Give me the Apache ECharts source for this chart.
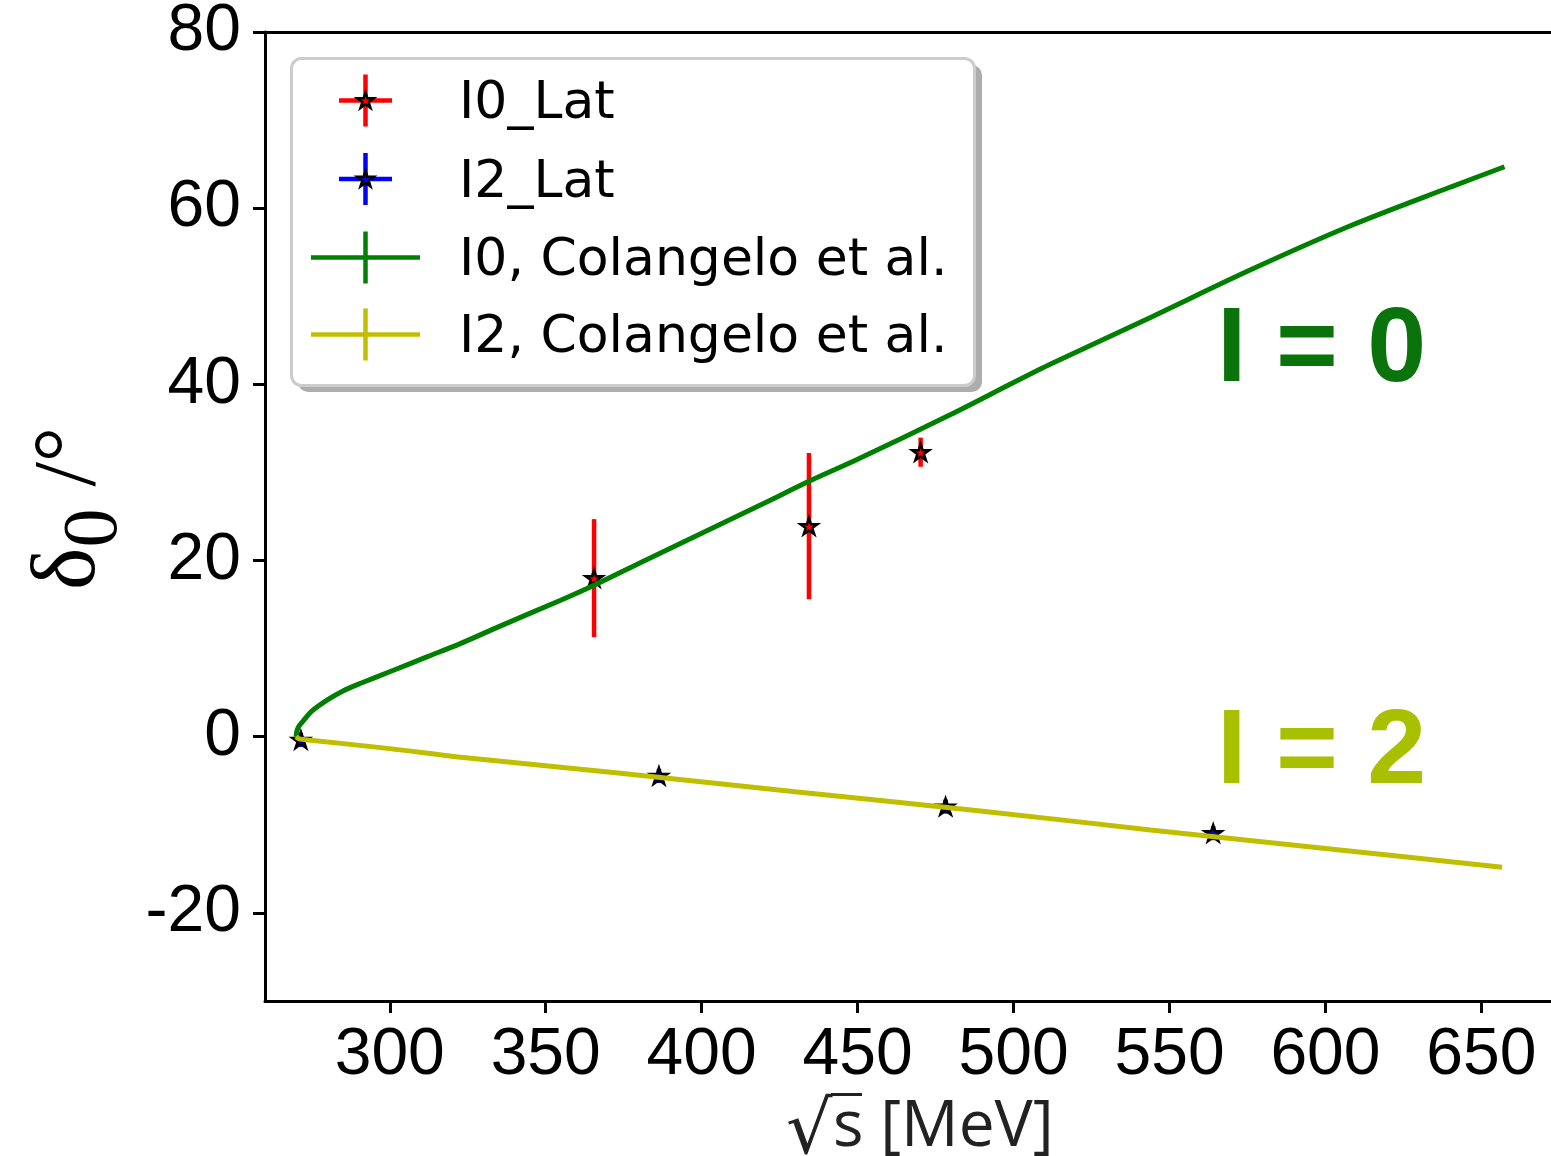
<!DOCTYPE html>
<html>
<head>
<meta charset="utf-8">
<script src="https://cdn.jsdelivr.net/npm/echarts@6/dist/echarts.min.js"></script>
<style>
  html, body { margin: 0; padding: 0; background: #fff; }
  #chart { width: 1551px; height: 1156px; }
</style>
</head>
<body>
<div id="chart"></div>
<script>
// Lattice points, I = 0 (sqrt(s) in MeV, phase shift in degrees, symmetric error)
const latI0X = [365.5, 434.4, 470.2];
const latI0Y = [18.0, 23.9, 32.3];
const latI0Err = [6.7, 8.3, 1.65];

// Lattice points, I = 2
const latI2X = [271.5, 386.3, 478.2, 564.0];
const latI2Y = [-0.36, -4.45, -7.93, -10.95];
const latI2Err = [0.8, 0.8, 0.8, 0.8];

// Colangelo et al. phase shift, I = 0
const colI0X = [269.95, 270.2, 270.6, 271.2, 272.5, 275, 280, 285, 290.7, 301.4, 312.1, 322.8, 335, 354.8, 365.5, 380, 400, 420, 434.4, 450, 480, 500, 511.9, 543.9, 576, 608, 640.1, 657.4];
const colI0Y = [0, 0.6, 1.0, 1.35, 1.9, 2.9, 4.18, 5.2, 6.07, 7.58, 9.09, 10.6, 12.5, 15.5, 17.2, 19.7, 23.1, 26.5, 29.0, 31.5, 36.6, 40.2, 42.3, 47.6, 53.0, 58.0, 62.4, 64.7];

// Colangelo et al. phase shift, I = 2
const colI2X = [269.95, 271, 274.7, 300, 322.8, 374, 430, 489.4, 543.9, 600, 656.6];
const colI2Y = [0, -0.25, -0.4, -1.35, -2.33, -4.14, -6.25, -8.42, -10.58, -12.68, -14.81];

// Axis ticks
const xTicks = [300, 350, 400, 450, 500, 550, 600, 650];
const yTicks = [-20, 0, 20, 40, 60, 80];

const RED = '#ff0000', BLUE = '#0000ff', GREEN = '#008000', YELLOW = '#bfbf00';
const STAR = 'M50 0 L61.23 34.55 L97.55 34.55 L68.17 55.9 L79.39 90.45 L50 69.1 L20.61 90.45 L31.83 55.9 L2.45 34.55 L38.77 34.55 Z';

// five-pointed star outline as polygon points around (cx, cy)
function starPoints(cx, cy, R) {
  const pts = [];
  for (let k = 0; k < 10; k++) {
    const a = (-90 + k * 36) * Math.PI / 180;
    const r = k % 2 === 0 ? R : R * 0.382;
    pts.push([cx + r * Math.cos(a), cy + r * Math.sin(a)]);
  }
  return pts;
}

const zip = (xs, ys) => xs.map((x, i) => [x, ys[i]]);
const zip3 = (xs, ys, es) => xs.map((x, i) => [x, ys[i], es[i]]);

function errorBars(color) {
  return function (params, api) {
    const x = api.value(0), y = api.value(1), e = api.value(2);
    const top = api.coord([x, y + e]);
    const bot = api.coord([x, y - e]);
    return {
      type: 'line',
      shape: { x1: top[0], y1: top[1], x2: bot[0], y2: bot[1] },
      style: { stroke: color, lineWidth: 4.5 }
    };
  };
}

const axisLineStyle = { color: '#000', width: 3 };
const tickFont = { fontFamily: 'Liberation Sans, Arial, sans-serif', fontSize: 66, color: '#000' };

// Legend drawn as a framed box with error-bar style handles
const legendRows = [
  { label: 'I0_Lat', color: RED, y: 100.5, half: 26.5, star: true },
  { label: 'I2_Lat', color: BLUE, y: 179, half: 26.5, star: true },
  { label: 'I0, Colangelo et al.', color: GREEN, y: 257.5, half: 54.5, star: false },
  { label: 'I2, Colangelo et al.', color: YELLOW, y: 334.5, half: 54.5, star: false }
];
const handleX = 365.5;
const legendChildren = [
  { type: 'rect', shape: { x: 298, y: 65, width: 684, height: 327, r: 10 }, style: { fill: 'rgba(0,0,0,0.32)' } },
  { type: 'rect', shape: { x: 291.5, y: 58.5, width: 683, height: 327, r: 10 }, style: { fill: '#fff', stroke: '#cccccc', lineWidth: 3 } }
];
legendRows.forEach(r => {
  legendChildren.push({ type: 'line', shape: { x1: handleX - r.half, y1: r.y, x2: handleX + r.half, y2: r.y }, style: { stroke: r.color, lineWidth: 4.5 } });
  legendChildren.push({ type: 'line', shape: { x1: handleX, y1: r.y - 26, x2: handleX, y2: r.y + 26 }, style: { stroke: r.color, lineWidth: 4.5 } });
  if (r.star) {
    legendChildren.push({ type: 'polygon', shape: { points: starPoints(handleX, r.y + 0.5, 8.5) }, style: { fill: r.color, stroke: '#000', lineWidth: 2.5 } });
  }
  legendChildren.push({ type: 'text', x: 459, y: r.y + 4, style: { text: r.label, fontFamily: 'DejaVu Sans', fontSize: 52, fill: '#000', verticalAlign: 'middle', align: 'left' } });
});

// x-axis title: radical sign, its overbar, then "s [MeV]"
const measureCtx = document.createElement('canvas').getContext('2d');
measureCtx.textBaseline = 'middle';
function inkBox(text, font) {
  measureCtx.font = font;
  const m = measureCtx.measureText(text);
  return { left: m.actualBoundingBoxLeft, right: m.actualBoundingBoxRight, ascent: m.actualBoundingBoxAscent, descent: m.actualBoundingBoxDescent };
}
const titleColor = '#222';
const radTop = 1093, radLeft = 788, radBottom = 1155, baseS = 1147;
// size the radical so its ink spans the wanted height
const probe = inkBox('√', '100px "DejaVu Sans"');
const radSize = Math.round(100 * (radBottom - radTop) / (probe.ascent + probe.descent));
const radFont = radSize + 'px "DejaVu Sans"';
const rad = inkBox('√', radFont);
const radX = radLeft + rad.left;
const radY = radTop + rad.ascent;
const radRight = radX + rad.right;
const sFont = '64px "Open Sans"';
const sBox = inkBox('s', sFont);
const sY = baseS - sBox.descent;
const sX = Math.max(836 + sBox.left, radRight - 8);
const titleGraphics = [
  { type: 'text', x: radX, y: radY, z: 10, style: { text: '√', font: radFont, fill: titleColor, verticalAlign: 'middle', align: 'left' } },
  { type: 'line', z: 10, shape: { x1: radRight - 2, y1: radTop + 1.5, x2: 862, y2: radTop + 1.5 }, style: { stroke: titleColor, lineWidth: 3 } },
  { type: 'text', x: sX, y: sY, z: 10, style: { text: 's [MeV]', font: sFont, fill: titleColor, verticalAlign: 'middle', align: 'left' } }
];

const option = {
  animation: false,
  backgroundColor: '#fff',
  grid: { left: 265, top: 32, width: 1310, height: 969, containLabel: false, outerBoundsMode: 'none' },
  xAxis: [
    {
      type: 'value', min: 260, max: 680, position: 'bottom',
      axisLine: { show: true, onZero: false, lineStyle: axisLineStyle },
      axisTick: { show: true, customValues: xTicks, length: 12, lineStyle: axisLineStyle },
      axisLabel: Object.assign({ customValues: xTicks, margin: 22 }, tickFont),
      splitLine: { show: false }
    },
    {
      type: 'value', min: 260, max: 680, position: 'top',
      axisLine: { show: true, onZero: false, lineStyle: axisLineStyle },
      axisTick: { show: false }, axisLabel: { show: false }, splitLine: { show: false }
    }
  ],
  yAxis: [
    {
      type: 'value', min: -30, max: 80,
      name: '{d|δ}{s|0}{t| /°}', nameLocation: 'middle', nameRotate: 90, nameGap: 123,
      nameTextStyle: {
        rich: {
          d: { fontFamily: 'Liberation Serif, serif', fontSize: 90, color: '#000', padding: [0, 0, 0, 16] },
          s: { fontFamily: 'Liberation Serif, serif', fontSize: 78, color: '#000', padding: [50, 0, 0, 0] },
          t: { fontFamily: 'Liberation Serif, serif', fontSize: 88, color: '#000' }
        }
      },
      axisLine: { show: true, onZero: false, lineStyle: axisLineStyle },
      axisTick: { show: true, customValues: yTicks, length: 12, lineStyle: axisLineStyle },
      axisLabel: Object.assign({ customValues: yTicks, margin: 24 }, tickFont),
      splitLine: { show: false }
    }
  ],
  series: [
    { name: 'I0_Lat err', type: 'custom', renderItem: errorBars(RED), data: zip3(latI0X, latI0Y, latI0Err), z: 2, silent: true },
    { name: 'I2_Lat err', type: 'custom', renderItem: errorBars(BLUE), data: zip3(latI2X, latI2Y, latI2Err), z: 2, silent: true },
    { name: 'I0_Lat', type: 'scatter', data: zip(latI0X, latI0Y), symbol: 'path://' + STAR, symbolSize: [17, 16], itemStyle: { color: RED, borderColor: '#000', borderWidth: 2.5, opacity: 1 }, z: 3 },
    { name: 'I2_Lat', type: 'scatter', data: zip(latI2X, latI2Y), symbol: 'path://' + STAR, symbolSize: [17, 16], itemStyle: { color: BLUE, borderColor: '#000', borderWidth: 2.5, opacity: 1 }, z: 3 },
    { name: 'I0, Colangelo et al.', type: 'line', data: zip(colI0X, colI0Y), showSymbol: false, smooth: 0.3, lineStyle: { color: GREEN, width: 5 }, z: 4 },
    { name: 'I2, Colangelo et al.', type: 'line', data: zip(colI2X, colI2Y), showSymbol: false, smooth: 0.3, lineStyle: { color: YELLOW, width: 5 }, z: 4 }
  ],
  graphic: [
    { type: 'group', z: 10, children: legendChildren },
    ...titleGraphics,
    { type: 'text', x: 1217, y: 352, z: 10, style: { text: 'I = 0', fontFamily: 'Liberation Sans, Arial, sans-serif', fontWeight: 'bold', fontSize: 106, fill: '#0b730b', verticalAlign: 'middle' } },
    { type: 'text', x: 1217, y: 754, z: 10, style: { text: 'I = 2', fontFamily: 'Liberation Sans, Arial, sans-serif', fontWeight: 'bold', fontSize: 106, fill: '#a8c000', verticalAlign: 'middle' } }
  ]
};

const chart = echarts.init(document.getElementById('chart'), null, { renderer: 'canvas' });
chart.setOption(option);
</script>
</body>
</html>
